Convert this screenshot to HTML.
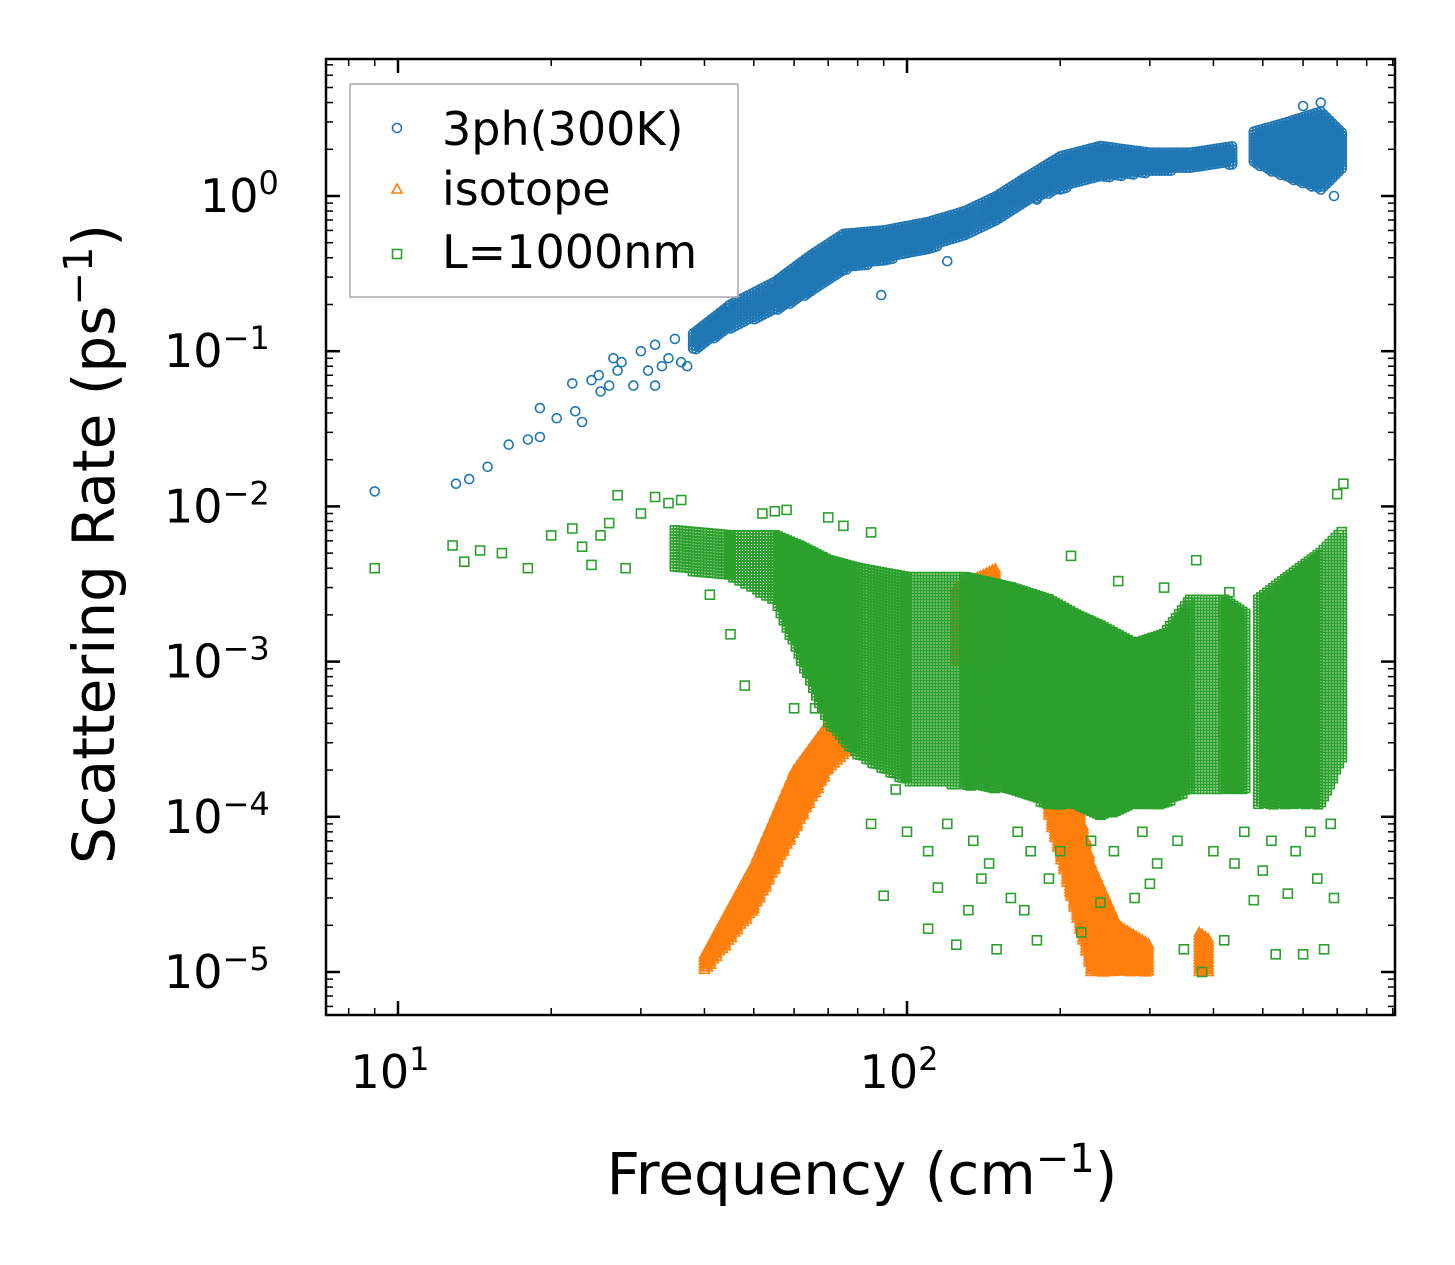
<!DOCTYPE html>
<html><head><meta charset="utf-8"><style>
html,body{margin:0;padding:0;background:#fff;}
svg{display:block;font-family:"DejaVu Sans","Liberation Sans",sans-serif;}
</style></head><body>
<svg id="chart" width="1455" height="1265" viewBox="0 0 1455 1265">
<rect x="0" y="0" width="1455" height="1265" fill="#fff"/>
<g id="marks"></g>
<g id="axes"></g>
<rect x="326" y="59" width="1069" height="956" fill="none" stroke="#000" stroke-width="2.5"/>
<g>
<rect x="350" y="84" width="388" height="213" fill="#fff" fill-opacity="0.8" stroke="#aaa" stroke-width="1.5"/>
<circle cx="397" cy="128" r="4.5" fill="none" stroke="#1f77b4" stroke-width="1.6"/>
<text x="442" y="145" font-size="46">3ph(300K)</text>
<polygon points="397,184 402,193 392,193" fill="none" stroke="#ff7f0e" stroke-width="1.6"/>
<text x="442" y="205" font-size="46">isotope</text>
<rect x="392.5" y="249.5" width="9" height="9" fill="none" stroke="#2ca02c" stroke-width="1.6"/>
<text x="442" y="268" font-size="46">L=1000nm</text>
</g>
<text x="862" y="1194" font-size="58" text-anchor="middle">Frequency (cm<tspan dy="-22" font-size="40">−1</tspan><tspan dy="22">)</tspan></text>
<text transform="translate(114,544) rotate(-90)" font-size="58" text-anchor="middle">Scattering Rate (ps<tspan dy="-22" font-size="40">−1</tspan><tspan dy="22">)</tspan></text>
</svg>
<script>
// ---- data ----
const xTickLabels=["10","10"];
const xTickExps=["1","2"];
const xTickValues=[10,100];
const yTickValues=[1,0.1,0.01,0.001,0.0001,0.00001];
const yTickExps=["0","−1","−2","−3","−4","−5"];
// dense bands: [freq, low, high]
const blueBands=[
 [[38,0.1,0.13],[45,0.14,0.2],[55,0.18,0.28],[65,0.24,0.42],[75,0.33,0.57],[90,0.38,0.6],[110,0.45,0.68],[130,0.55,0.8],[150,0.7,1.0],[170,0.9,1.3],[200,1.1,1.8],[240,1.3,2.1],[300,1.4,1.9],[360,1.5,1.9],[440,1.6,2.1]],
 [[480,1.6,2.6],[560,1.3,3.0],[650,1.1,3.5],[720,1.5,2.5]]
];
const bluePoints=[[9,0.0125],[13,0.014],[13.8,0.015],[15,0.018],[16.5,0.025],[18,0.027],[19,0.028],[19,0.043],[20.5,0.037],[22,0.062],[22.3,0.041],[23,0.035],[24,0.065],[24.8,0.07],[25,0.055],[26,0.06],[26.5,0.09],[27,0.075],[27.5,0.085],[29,0.06],[30,0.1],[31,0.075],[32,0.06],[32,0.11],[33,0.08],[34,0.09],[35,0.12],[36,0.085],[37,0.08],[89,0.23],[120,0.38],[180,0.95],[650,4.0],[600,3.8],[690,1.0]];
const orangeBands=[
 [[40,1e-5,1.3e-5],[50,2.5e-5,5e-5],[60,8e-5,2e-4],[70,2e-4,4e-4],[80,3e-4,6e-4]],
 [[125,1e-3,3e-3],[150,1e-3,4e-3]],
 [[190,1e-4,3e-4],[210,3e-5,2e-4],[230,1e-5,5e-5],[260,1e-5,2e-5],[300,1e-5,1.5e-5]],
 [[375,1e-5,1.8e-5],[395,1e-5,1.6e-5]]
];
const greenBands=[
 [[35,4e-3,7e-3],[45,3.5e-3,6.5e-3],[55,2.5e-3,6.5e-3],[62,1e-3,5.5e-3],[70,4e-4,4.5e-3],[80,2.5e-4,4e-3],[100,1.7e-4,3.5e-3],[130,1.6e-4,3.5e-3],[160,1.5e-4,3e-3],[190,1.2e-4,2.5e-3],[215,1.2e-4,2e-3],[240,1e-4,1.7e-3],[280,1.2e-4,1.3e-3],[320,1.2e-4,1.5e-3],[360,1.5e-4,2.5e-3],[420,1.5e-4,2.5e-3],[465,1.5e-4,2e-3]],
 [[490,1.2e-4,2.5e-3],[560,1.2e-4,3.5e-3],[650,1.2e-4,5e-3],[720,2.5e-4,7e-3]]
];
const greenPoints=[[9,0.004],[12.8,0.0056],[13.5,0.0044],[14.5,0.0052],[16,0.005],[18,0.004],[20,0.0065],[22,0.0072],[23,0.0055],[24,0.0042],[25,0.0065],[26,0.0078],[27,0.0118],[28,0.004],[30,0.009],[32,0.0115],[34,0.0105],[36,0.011],[41,0.0027],[45,0.0015],[48,0.0007],[52,0.009],[55,0.0093],[58,0.0095],[60,0.0005],[64,0.00085],[66,0.0005],[70,0.0085],[75,0.0075],[85,0.0068],[90,0.000031],[95,0.00015],[110,0.000019],[115,0.000035],[125,0.000015],[132,0.000025],[140,0.00004],[150,0.000014],[160,0.00003],[170,0.000025],[180,0.000016],[190,0.00004],[200,0.00006],[220,0.000018],[210,0.0048],[240,0.000028],[260,0.0033],[280,0.00003],[300,0.000037],[320,0.003],[350,0.000014],[370,0.0045],[380,0.00001],[420,0.000016],[430,0.0028],[460,0.00008],[480,0.000029],[500,0.000045],[530,0.000013],[560,0.000032],[600,0.000013],[640,0.00004],[660,0.000014],[690,0.00003],[700,0.012],[720,0.014],
 [85,0.00009],[100,0.00008],[110,0.00006],[120,0.00009],[135,0.00007],[145,0.00005],[165,0.00008],[175,0.00006],[230,0.00007],[255,0.00006],[290,0.00008],[310,0.00005],[340,0.00007],[400,0.00006],[440,0.00005],[520,0.00007],[580,0.00006],[620,0.00008],[680,0.00009]];

// ---- axes functions ----
const X0=326,X1=1395,Y0=59,Y1=1015;
const xPos=f=>398+509*(Math.log10(f)-1);
const yPos=v=>196-155.2*Math.log10(v);
const NS="http://www.w3.org/2000/svg";
const marks=document.getElementById('marks');
const axes=document.getElementById('axes');
function mk(tag,attrs,parent){const e=document.createElementNS(NS,tag);for(const k in attrs)e.setAttribute(k,attrs[k]);parent.appendChild(e);return e;}

function marker(kind,f,v,g){
 const x=xPos(f),y=yPos(v);let e;
 if(kind==='c'){e=mk('circle',{cx:x.toFixed(1),cy:y.toFixed(1),r:4.5},g);}
 else if(kind==='t'){e=mk('polygon',{points:`${x.toFixed(1)},${(y-5).toFixed(1)} ${(x+5).toFixed(1)},${(y+4).toFixed(1)} ${(x-5).toFixed(1)},${(y+4).toFixed(1)}`},g);}
 else{e=mk('rect',{x:(x-4.5).toFixed(1),y:(y-4.5).toFixed(1),width:9,height:9},g);}
 return e;
}
function drawBands(kind,bands,g,stepX,stepY){
 bands.forEach(seg=>{
  for(let i=0;i<seg.length-1;i++){
   const a=seg[i],b=seg[i+1];
   const xa=xPos(a[0]),xb=xPos(b[0]);
   for(let x=xa;x<xb;x+=stepX){
    const t=(x-xa)/(xb-xa);
    const f=Math.pow(10,(x-398)/509+1);
    const lo=yPos(a[1])*(1-t)+yPos(b[1])*t;
    const hi=yPos(a[2])*(1-t)+yPos(b[2])*t;
    for(let y=hi;y<=lo;y+=stepY){
     const v=Math.pow(10,(196-y)/155.2);
     const e=marker(kind,f,v,g);
     
     
    }
   }
  }
 });
}
function series(name,color,kind,bands,pts,sx,sy){
 const g=mk('g',{fill:'none',stroke:color,'stroke-width':1.6},marks);
 
 
 drawBands(kind,bands,g,sx,sy);
 pts.forEach(p=>{const e=marker(kind,p[0],p[1],g);
  
  });
}
series('series-3ph','#1f77b4','c',blueBands,bluePoints,3,3);
series('series-isotope','#ff7f0e','t',orangeBands,[],3,3);
series('series-boundary','#2ca02c','s',greenBands,greenPoints,3,3);

// ticks
function tick(x1,y1,x2,y2,w){const e=mk('line',{x1,y1,x2,y2,stroke:'#000','stroke-width':w},axes);
 
 }
for(let d=0;d<=2;d++){for(let m=1;m<=9;m++){
 const f=m*Math.pow(10,d);const x=xPos(f);if(x<X0||x>X1)continue;
 const L=m===1?14:7,w=m===1?2.5:1.5;
 tick(x,Y1,x,Y1-L,w);tick(x,Y0,x,Y0+L,w);
}}
for(let d=-6;d<=1;d++){for(let m=1;m<=9;m++){
 const v=m*Math.pow(10,d);const y=yPos(v);if(y<Y0||y>Y1)continue;
 const L=m===1?14:7,w=m===1?2.5:1.5;
 tick(X0,y,X0+L,y,w);tick(X1,y,X1-L,y,w);
}}
xTickValues.forEach((v,i)=>{const t=mk('text',{x:xPos(v)-8,y:1088,'font-size':46,'text-anchor':'middle'},axes);
 
 
 t.textContent=xTickLabels[i];
 const s=mk('tspan',{dy:-18,'font-size':32},t);s.textContent=xTickExps[i];});
yTickValues.forEach((v,i)=>{const t=mk('text',{x:200,y:yPos(v)+16,'font-size':46},axes);
 
 
 t.textContent='10';
 const s=mk('tspan',{dy:-18,'font-size':32},t);s.textContent=yTickExps[i];
 if(yTickExps[i].length>1)t.setAttribute('x',164);});
</script>
</body></html>
